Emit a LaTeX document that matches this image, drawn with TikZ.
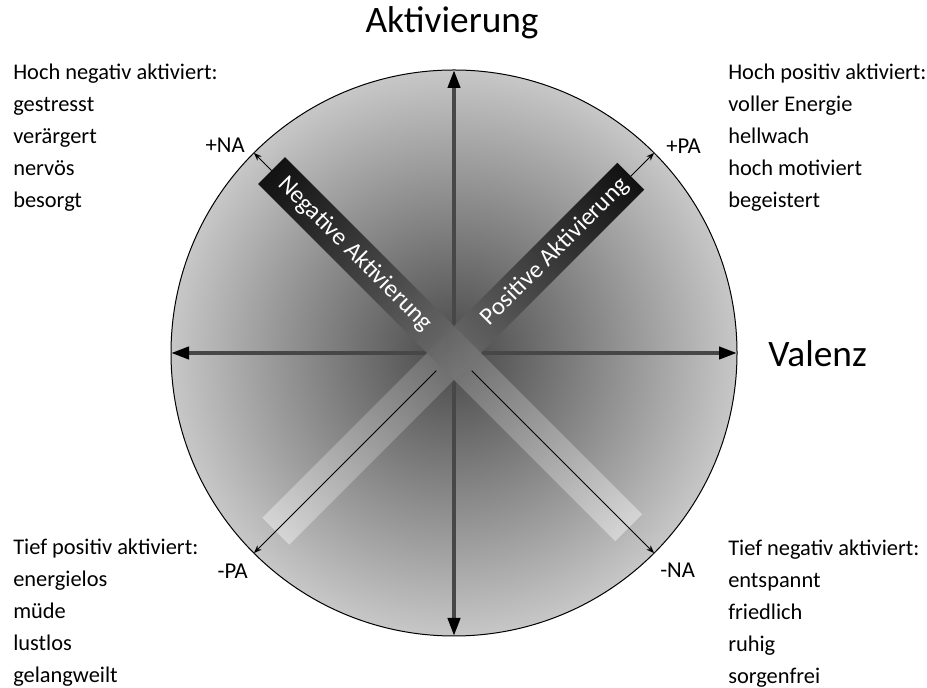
\documentclass[tikz,border=0pt]{standalone}
\usepackage{fontspec}
\setmainfont{Carlito}
\usetikzlibrary{arrows.meta}

\tikzset{
  achse/.style={line width=3pt,draw=black!72,
    {Triangle[length=13.5pt,width=9pt,color=black]}-{Triangle[length=13.5pt,width=9pt,color=black]}},
  pfeil/.style={line width=0.75pt,draw=black,-{Stealth[length=6pt,width=4.5pt]}},
  titel/.style={font=\fontsize{28}{34}\selectfont,inner sep=0pt,anchor=base},
  liste/.style={font=\fontsize{16.8}{20}\selectfont,inner sep=0pt,anchor=base west},
  pol/.style={font=\fontsize{17}{20}\selectfont,inner sep=0pt},
  balken/.style={font=\fontsize{18.5}{22}\selectfont,text=white,inner sep=0pt}
}

\begin{document}
\begin{tikzpicture}[x=0.75pt,y=0.75pt]
\useasboundingbox (0,0) rectangle (927,688);
\coordinate (c) at (454,335);
\foreach \n/\a in {rgt/0,top/90,lft/180,bot/270,ppa/45,pna/135,mpa/225,mna/315}
  \coordinate (\n) at ([shift={(\a:283)}]c);
\coordinate (pae) at ([shift={(45:250)}]c);
\coordinate (nae) at ([shift={(135:258)}]c);
\coordinate (pas) at ([shift={(225:25)}]c);
\coordinate (nas) at ([shift={(315:25)}]c);

% Kreis
\shade[inner color=black!72,outer color=black!22] (c) circle (283);
\draw[line width=0.75pt] (c) circle (283);

% Achsen
\draw[achse] (lft) -- (rgt);
\draw[achse] (bot) -- (top);

% Balken
\shade[transform canvas={shift={(c)},rotate=45},fill opacity=0.9,
  left color=black!15,middle color=black!62,right color=black] (-252,-19) rectangle (250,19);
\shade[transform canvas={shift={(c)},rotate=135},fill opacity=0.9,
  left color=black!15,middle color=black!62,right color=black] (-247,-19) rectangle (258,19);

\draw[pfeil] (pae) -- (ppa);
\draw[pfeil] (nae) -- (pna);
\draw[pfeil] (pas) -- (mpa);
\draw[pfeil] (nas) -- (mna);

\node[balken,rotate=45] (tpa) at ([shift={(45:143)}]c) {Positive Aktivierung};
\node[balken,rotate=-45] (tna) at ([shift={(135:140)}]c) {Negative Aktivierung};

\node[titel] (akt) at (452,655) {Aktivierung};
\node[titel,anchor=base west] (val) at (768,321) {Valenz};

\node[pol,anchor=base east] (lpna) at (245,535) {+NA};
\node[pol,anchor=base west] (lppa) at (666,534) {+PA};
\node[pol,anchor=base east] (lmpa) at (248,109) {-PA};
\node[pol,anchor=base west] (lmna) at (660,110) {-NA};

\foreach \w [count=\i from 0] in {Hoch negativ aktiviert:,gestresst,verärgert,nervös,besorgt}
  \node[liste] (hn\i) at (13,608-32*\i) {\w};
\foreach \w [count=\i from 0] in {Hoch positiv aktiviert:,voller Energie,hellwach,hoch motiviert,begeistert}
  \node[liste] (hp\i) at (728,608-32*\i) {\w};
\foreach \w [count=\i from 0] in {Tief positiv aktiviert:,energielos,müde,lustlos,gelangweilt}
  \node[liste] (tp\i) at (13,133-32*\i) {\w};
\foreach \w [count=\i from 0] in {Tief negativ aktiviert:,entspannt,friedlich,ruhig,sorgenfrei}
  \node[liste] (tn\i) at (728,132-32*\i) {\w};
\end{tikzpicture}
\end{document}
